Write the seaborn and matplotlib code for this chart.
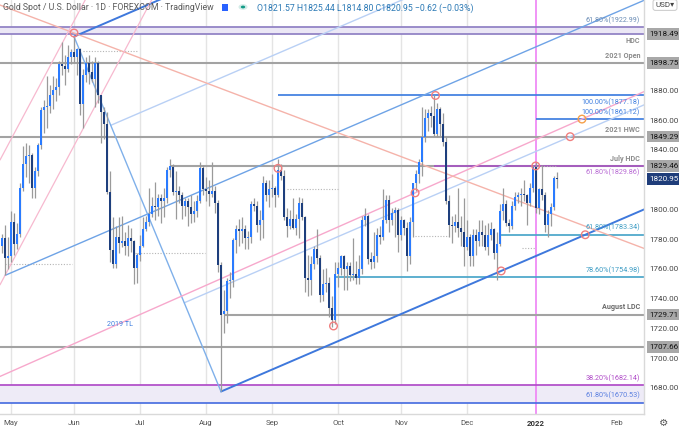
import numpy as np
import pandas as pd
import matplotlib
matplotlib.use("Agg")
import matplotlib.pyplot as plt
import matplotlib.transforms as mtransforms
from matplotlib.patches import Rectangle, Circle
import seaborn as sns

# ---------------- data ----------------
dates = pd.bdate_range("2021-04-28", "2022-01-12")

opens = [1776, 1781, 1768, 1769, 1792, 1777, 1784, 1815, 1831, 1836,
         1837, 1815, 1826, 1844, 1867, 1869, 1870, 1877, 1881, 1883,
         1898, 1897, 1895, 1903, 1906, 1903, 1908, 1871, 1891, 1899,
         1893, 1888, 1899, 1877, 1866, 1858, 1812, 1773, 1764, 1782,
         1778, 1779, 1776, 1781, 1779, 1761, 1770, 1776, 1787, 1792,
         1797, 1803, 1802, 1808, 1806, 1808, 1827, 1829, 1812, 1813,
         1810, 1803, 1806, 1802, 1797, 1799, 1806, 1828, 1814, 1813,
         1811, 1813, 1805, 1763, 1730, 1732, 1752, 1753, 1780, 1787,
         1786, 1787, 1781, 1782, 1804, 1803, 1790, 1793, 1818, 1810,
         1814, 1815, 1810, 1827, 1823, 1795, 1789, 1794, 1788, 1794,
         1805, 1795, 1754, 1753, 1764, 1774, 1768, 1743, 1750, 1751,
         1734, 1726, 1757, 1761, 1769, 1760, 1762, 1756, 1757, 1754,
         1760, 1793, 1796, 1767, 1765, 1769, 1783, 1782, 1793, 1807,
         1793, 1798, 1800, 1783, 1793, 1788, 1769, 1792, 1818, 1824,
         1832, 1849, 1862, 1865, 1863, 1851, 1868, 1858, 1846, 1806,
         1790, 1789, 1792, 1788, 1785, 1775, 1782, 1769, 1783, 1779,
         1785, 1783, 1775, 1783, 1787, 1771, 1777, 1799, 1804, 1791,
         1789, 1803, 1809, 1810, 1811, 1810, 1805, 1815, 1829, 1801,
         1814, 1810, 1790, 1797, 1802, 1821.57]
highs = [1784, 1790, 1782, 1799, 1798, 1791, 1818, 1843, 1845, 1844,
         1838, 1829, 1845, 1869, 1874, 1890, 1884, 1890, 1889, 1900,
         1913, 1904, 1911, 1908, 1917, 1909, 1909, 1895, 1903, 1904,
         1900, 1903, 1900, 1877, 1869, 1866, 1826, 1795, 1789, 1795,
         1796, 1785, 1790, 1788, 1780, 1771, 1783, 1795, 1796, 1815,
         1809, 1819, 1811, 1811, 1815, 1829, 1834, 1831, 1826, 1816,
         1812, 1808, 1808, 1810, 1806, 1810, 1832, 1830, 1822, 1820,
         1832, 1816, 1807, 1765, 1746, 1754, 1758, 1781, 1790, 1794,
         1795, 1790, 1786, 1806, 1808, 1806, 1800, 1823, 1820, 1820,
         1824, 1816, 1834, 1831, 1827, 1801, 1800, 1808, 1797, 1809,
         1808, 1796, 1770, 1769, 1776, 1787, 1770, 1760, 1761, 1755,
         1742, 1765, 1765, 1770, 1770, 1765, 1765, 1781, 1766, 1770,
         1796, 1801, 1797, 1772, 1785, 1788, 1789, 1814, 1810, 1810,
         1801, 1802, 1801, 1796, 1794, 1792, 1795, 1818, 1827, 1834,
         1869, 1868, 1868, 1870, 1877, 1872, 1869, 1865, 1849, 1810,
         1796, 1797, 1815, 1796, 1808, 1793, 1784, 1787, 1787, 1793,
         1793, 1790, 1791, 1792, 1788, 1785, 1804, 1815, 1807, 1794,
         1806, 1812, 1812, 1815, 1820, 1811, 1818, 1830, 1832, 1815,
         1830, 1812, 1800, 1805, 1823, 1825.44]
lows = [1771, 1756, 1760, 1765, 1770, 1774, 1782, 1813, 1822, 1818,
        1808, 1808, 1823, 1841, 1852, 1855, 1865, 1868, 1873, 1877,
        1891, 1884, 1893, 1898, 1899, 1891, 1864, 1855, 1886, 1885,
        1886, 1869, 1872, 1845, 1848, 1811, 1765, 1761, 1761, 1771,
        1775, 1770, 1769, 1772, 1750, 1751, 1766, 1775, 1786, 1789,
        1795, 1793, 1796, 1791, 1795, 1805, 1822, 1810, 1794, 1805,
        1794, 1796, 1789, 1791, 1792, 1795, 1805, 1810, 1806, 1803,
        1809, 1798, 1758, 1678, 1717, 1724, 1741, 1748, 1771, 1776,
        1778, 1774, 1774, 1778, 1799, 1785, 1780, 1781, 1806, 1802,
        1809, 1802, 1809, 1820, 1793, 1782, 1787, 1787, 1783, 1781,
        1793, 1745, 1742, 1743, 1760, 1764, 1738, 1739, 1745, 1728,
        1721, 1723, 1748, 1756, 1746, 1746, 1752, 1753, 1750, 1750,
        1757, 1789, 1764, 1760, 1761, 1765, 1777, 1780, 1791, 1785,
        1790, 1782, 1772, 1780, 1783, 1759, 1764, 1782, 1813, 1818,
        1823, 1846, 1853, 1856, 1850, 1849, 1850, 1843, 1804, 1782,
        1778, 1785, 1782, 1776, 1762, 1773, 1762, 1762, 1770, 1776,
        1776, 1773, 1770, 1780, 1767, 1753, 1776, 1793, 1789, 1785,
        1787, 1800, 1805, 1803, 1806, 1790, 1803, 1812, 1798, 1797,
        1807, 1785, 1782, 1789, 1800, 1814.80]
closes = [1781, 1768, 1769, 1792, 1777, 1784, 1815, 1831, 1836, 1837,
          1815, 1826, 1844, 1867, 1869, 1870, 1877, 1881, 1883, 1898,
          1897, 1895, 1903, 1906, 1903, 1908, 1871, 1891, 1899, 1893,
          1888, 1899, 1877, 1866, 1858, 1812, 1773, 1764, 1782, 1778,
          1779, 1776, 1781, 1779, 1761, 1770, 1776, 1787, 1792, 1797,
          1803, 1802, 1808, 1806, 1808, 1827, 1829.5, 1812, 1813, 1810,
          1803, 1806, 1802, 1797, 1799, 1806, 1828, 1814, 1813, 1811,
          1813, 1805, 1763, 1729.7, 1732, 1752, 1753, 1780, 1787, 1786,
          1787, 1781, 1782, 1804, 1803, 1790, 1793, 1818, 1810, 1814,
          1815, 1810, 1827, 1823, 1795, 1789, 1794, 1788, 1794, 1805,
          1795, 1754, 1753, 1764, 1774, 1768, 1743, 1750, 1751, 1734,
          1726, 1757, 1761, 1769, 1760, 1762, 1756, 1757, 1754, 1760,
          1793, 1796, 1767, 1765, 1769, 1783, 1782, 1793, 1807, 1793,
          1798, 1800, 1783, 1793, 1788, 1769, 1792, 1818, 1824, 1832,
          1849, 1862, 1865, 1863, 1851, 1868, 1858, 1846, 1806, 1790,
          1789, 1792, 1788, 1785, 1775, 1782, 1769, 1783, 1779, 1785,
          1783, 1775, 1783, 1787, 1771, 1777, 1799, 1804, 1791, 1789,
          1803, 1809, 1810, 1811, 1810, 1805, 1815, 1829, 1801, 1814,
          1810, 1790, 1797, 1802, 1821.57, 1820.95]

month_dates = ["2021-05-03", "2021-06-01", "2021-07-01", "2021-08-02", "2021-09-01",
               "2021-10-01", "2021-11-01", "2021-12-01", "2022-01-03"]
month_labels = ["May", "Jun", "Jul", "Aug", "Sep", "Oct", "Nov", "Dec", "2022", "Feb"]
feb_bars_ahead = 20

# horizontal levels
level_prices = [1922.99, 1918.49, 1898.75, 1877.18, 1861.12, 1849.29, 1829.46,
                1829.86, 1783.34, 1754.98, 1729.71, 1707.66, 1682.14, 1670.53]
level_starts = [None, None, None, "2021-09-03", "2022-01-03", None, "2021-07-15",
                "2021-11-16", "2021-12-16", "2021-09-30", "2021-08-10", None, None, None]
level_texts = ["61.80%(1922.99)", "HDC", "2021 Open", "100.00%(1877.18)", "100.00%(1861.12)",
               "2021 HWC", "July HDC", "61.80%(1829.86)", "61.80%(1783.34)",
               "78.60%(1754.98)", "August LDC", "", "38.20%(1682.14)", "61.80%(1670.53)"]
level_side = [1, -1, 1, -1, 1, 1, 1, -1, 1, 1, 1, 1, 1, 1]
level_colors = ["#8f80c4", "#8f80c4", "#a3a3a3", "#3f7fe0", "#3f7fe0", "#a3a3a3", "#a3a3a3",
                "#a654c2", "#4aa6c9", "#4aa6c9", "#a3a3a3", "#a3a3a3", "#b04cc8", "#4a6fe0"]
level_text_colors = ["#6a8cb5", "#8c8c8c", "#8c8c8c", "#3f7fe0", "#3f7fe0", "#8c8c8c",
                     "#8c8c8c", "#b86ad4", "#3d9cc4", "#3d9cc4", "#6a6a6a", "#8c8c8c",
                     "#b04cc8", "#5a7fe0"]

axis_plain = [1880, 1860, 1840, 1800, 1780, 1760, 1740, 1720, 1700, 1680]
axis_boxed = [1918.49, 1898.75, 1849.29, 1829.46, 1729.71, 1707.66]
last_price = 1820.95

# pitchfork anchors (bar date, price)
pf_dates = ["2021-04-29", "2021-06-01", "2021-08-09"]
pf_prices = [1756.0, 1916.6, 1677.9]

# other trendlines (two anchor points each)
tl2019_x = [137.7, 193.3]
tl2019_y = [1811.5, 1861.1]
tl2019_label_x = 35
tl2019_label_y = 1722.7
desc_x = [24, 186]
desc_y = [1919.0, 1795.5]
steep_lo_x = [1, 38.5]
steep_lo_y = [1756.0, 1898.1]
steep_hi_x = [-0.67, 20.0]
steep_hi_y = [1833.6, 1911.9]

# dotted reference segments
dot_x0 = [27, 1, 44.3, 95, 137.7, 173.3, 178.5]
dot_x1 = [45.3, 23.3, 67.7, 112, 149.3, 177.7, 185]
dot_y = [1907.1, 1763.7, 1771.3, 1813.9, 1782.8, 1774.2, 1829.6]

# marker circles
circ_x = [24, 92, 110.5, 137.7, 144.5, 177.9]
circ_y = [1919.0, 1828.0, 1722.0, 1811.5, 1877.0, 1829.6]

UP = "#2a7bff"
DOWN = "#1e3f7d"
WICK = "#9a9a9a"

# ---------------- figure ----------------
sns.set_theme(style="white")
plt.rcParams["font.family"] = ["Roboto", "DejaVu Sans"]

W, H = 679, 429
fig = plt.figure(figsize=(W / 100, H / 100), dpi=100)
fig.patch.set_facecolor("white")
ax = fig.add_axes([0, 15 / H, 644 / W, 414 / H])
ax.set_facecolor("white")
XMAX = 214.0
ax.set_xlim(-0.667, XMAX)
ax.set_ylim(1662.8, 1941.2)

idx = np.arange(len(dates))
pos = {d: i for i, d in enumerate(dates)}
def di(s):
    return pos[pd.Timestamp(s)]

o = np.array(opens, float); h = np.array(highs, float)
l = np.array(lows, float); c = np.array(closes, float)

# month grid
mpos = [di(d) for d in month_dates]
for p in mpos[:-1]:
    ax.axvline(p, color="#e4e4e4", lw=1.0, zorder=0)
ax.axvline(mpos[-1], color="#ee82f5", lw=1.2, zorder=1)

# bands
ax.axhspan(1918.49, 1922.99, color="#ebe7f5", zorder=0.5, lw=0)
ax.axhspan(1670.53, 1682.14, color="#eeebf7", zorder=0.5, lw=0)

trans = mtransforms.blended_transform_factory(ax.transAxes, ax.transData)

# horizontal levels
for p, s, t, side, col, tcol in zip(level_prices, level_starts, level_texts, level_side,
                                    level_colors, level_text_colors):
    x0 = -1 if s is None else di(s)
    lw = 1.5 if col == "#a3a3a3" else 1.25
    ax.plot([x0, XMAX], [p, p], color=col, lw=lw, zorder=2, solid_capstyle="butt")
    if t:
        bold = t in ("HDC", "2021 Open", "2021 HWC", "July HDC", "August LDC")
        ax.annotate(t, xy=(0.994, p), xycoords=trans,
                    xytext=(0, 2.2 * side), textcoords="offset points",
                    ha="right", va="bottom" if side > 0 else "top",
                    fontsize=5.2, color=tcol, fontweight="bold" if bold else "normal",
                    zorder=6)

# dotted segments
for a, b, y in zip(dot_x0, dot_x1, dot_y):
    ax.plot([a, b], [y, y], color="#b5b5b5", lw=0.8, ls=(0, (1, 1.5)), zorder=2)

# pitchfork
pa = np.array([di(pf_dates[0]), pf_prices[0]])
pb = np.array([di(pf_dates[1]), pf_prices[1]])
pc = np.array([di(pf_dates[2]), pf_prices[2]])
pm = (pb + pc) / 2
slope = (pm[1] - pa[1]) / (pm[0] - pa[0])
def ray(p0, color, lw):
    ax.plot([p0[0], XMAX], [p0[1], p0[1] + slope * (XMAX - p0[0])], color=color, lw=lw, zorder=2)
ray(pa, "#6ea3e6", 1.0)
ray(pb, "#3e78dc", 1.4)
ray(pc, "#3e78dc", 1.4)
ray((pb + pm) / 2, "#b9d0f5", 1.0)
ray((pm + pc) / 2, "#b9d0f5", 1.0)
ax.plot([pb[0], pc[0]], [pb[1], pc[1]], color="#7fb0ea", lw=1.0, zorder=2)

# other trendlines
ax.axline((tl2019_x[0], tl2019_y[0]), (tl2019_x[1], tl2019_y[1]), color="#f7a8cc", lw=1.0, zorder=2)
ax.axline((desc_x[0], desc_y[0]), (desc_x[1], desc_y[1]), color="#f5b3aa", lw=1.0, zorder=2)
ax.axline((steep_lo_x[0], steep_lo_y[0]), (steep_lo_x[1], steep_lo_y[1]), color="#f7b9cf", lw=0.9, zorder=2)
ax.axline((steep_hi_x[0], steep_hi_y[0]), (steep_hi_x[1], steep_hi_y[1]), color="#f7b9cf", lw=0.9, zorder=2)
ax.annotate("2019 TL", xy=(tl2019_label_x, tl2019_label_y), xycoords="data", fontsize=5.2,
            color="#3f7fe0", ha="left", va="center", zorder=6)

# candles
up = c >= o
ax.vlines(idx, l, h, color=WICK, lw=0.9, zorder=3)
bb = np.minimum(o, c)
bh = np.maximum(np.abs(c - o), 0.7)
ax.bar(idx[up], bh[up], bottom=bb[up], width=0.72, color=UP, lw=0, zorder=4)
ax.bar(idx[~up], bh[~up], bottom=bb[~up], width=0.72, color=DOWN, lw=0, zorder=4)

# circles, including computed line/level intersections
def hit(p0, p1, level):
    s_ = (p1[1] - p0[1]) / (p1[0] - p0[0])
    return p0[0] + (level - p0[1]) / s_
lower_half = (pm + pc) / 2
cx = list(circ_x) + [pc[0] + (1759.0 - pc[1]) / slope,
                     lower_half[0] + (1849.29 - lower_half[1]) / slope,
                     pc[0] + (1783.34 - pc[1]) / slope,
                     hit((tl2019_x[0], tl2019_y[0]), (tl2019_x[1], tl2019_y[1]), 1861.12)]
cy = list(circ_y) + [1759.0, 1849.29, 1783.34, 1861.12]
cols = ["#f07f7f"] * (len(cx) - 1) + ["#f5a04a"]
ax.scatter(cx, cy, s=30, facecolors="none", edgecolors=cols, linewidths=1.0, zorder=5)

# axes cosmetics
for sp in ["top", "left"]:
    ax.spines[sp].set_visible(False)
for sp in ["bottom", "right"]:
    ax.spines[sp].set_color("#d9d9d9")
    ax.spines[sp].set_linewidth(1.0)
ax.set_yticks([])
ax.set_xticks(mpos + [len(dates) - 1 + feb_bars_ahead])
ax.set_xticklabels(month_labels)
ax.tick_params(axis="x", length=0, pad=4, labelsize=5.6, colors="#555555")
for tl in ax.get_xticklabels():
    if tl.get_text() == "2022":
        tl.set_fontweight("bold")
        tl.set_color("#333333")

# right price axis
for p in axis_plain:
    ax.annotate(f"{p:.2f}", xy=(1, p), xycoords=trans, xytext=(4, 0), textcoords="offset points",
                ha="left", va="center", fontsize=5.8, color="#444444", annotation_clip=False)
for p in axis_boxed:
    ax.annotate(f"{p:.2f}", xy=(1, p), xycoords=trans, xytext=(4, 0), textcoords="offset points",
                ha="left", va="center", fontsize=5.8, color="#111111", annotation_clip=False,
                bbox=dict(boxstyle="square,pad=0.35", fc="#a8a8a8", ec="none"))
ax.annotate(f"{last_price:.2f}", xy=(1, last_price), xycoords=trans, xytext=(4, 0),
            textcoords="offset points", ha="left", va="center", fontsize=5.8, color="white",
            annotation_clip=False, bbox=dict(boxstyle="square,pad=0.35", fc="#1f3d7a", ec="none"))

# header
def fx(px):
    return px / W
def fy(py):
    return 1 - py / H
fig.text(fx(3), fy(8), "Gold Spot / U.S. Dollar · 1D · FOREXCOM · TradingView",
         fontsize=6.3, color="#5a5a5a", ha="left", va="center")
fig.patches.append(Rectangle((fx(222), fy(11)), 6 / W, 7 / H, transform=fig.transFigure,
                             fc="#2962ff", ec="none"))
fig.patches.append(Circle((fx(243), fy(7)), 4.5 / W, transform=fig.transFigure,
                          fc="#d4ece8", ec="none"))
fig.patches.append(Circle((fx(243), fy(7)), 2.2 / W, transform=fig.transFigure,
                          fc="#129a86", ec="none"))
fig.text(fx(257), fy(8), "O1821.57 H1825.44 L1814.80 C1820.95 \u22120.62 (\u22120.03%)",
         fontsize=6.3, color="#2b79b5", ha="left", va="center")
fig.text(fx(665), fy(5), "USD\u25be", fontsize=5.8, color="#444444", ha="center", va="center",
         bbox=dict(boxstyle="round,pad=0.3", fc="white", ec="#cfcfcf", lw=0.8))
fig.text(fx(664), fy(423), "\u2699", fontsize=7.5, color="#555555", ha="center", va="center",
         family=["DejaVu Sans"])

fig.savefig("out.png", dpi=100, facecolor="white")
